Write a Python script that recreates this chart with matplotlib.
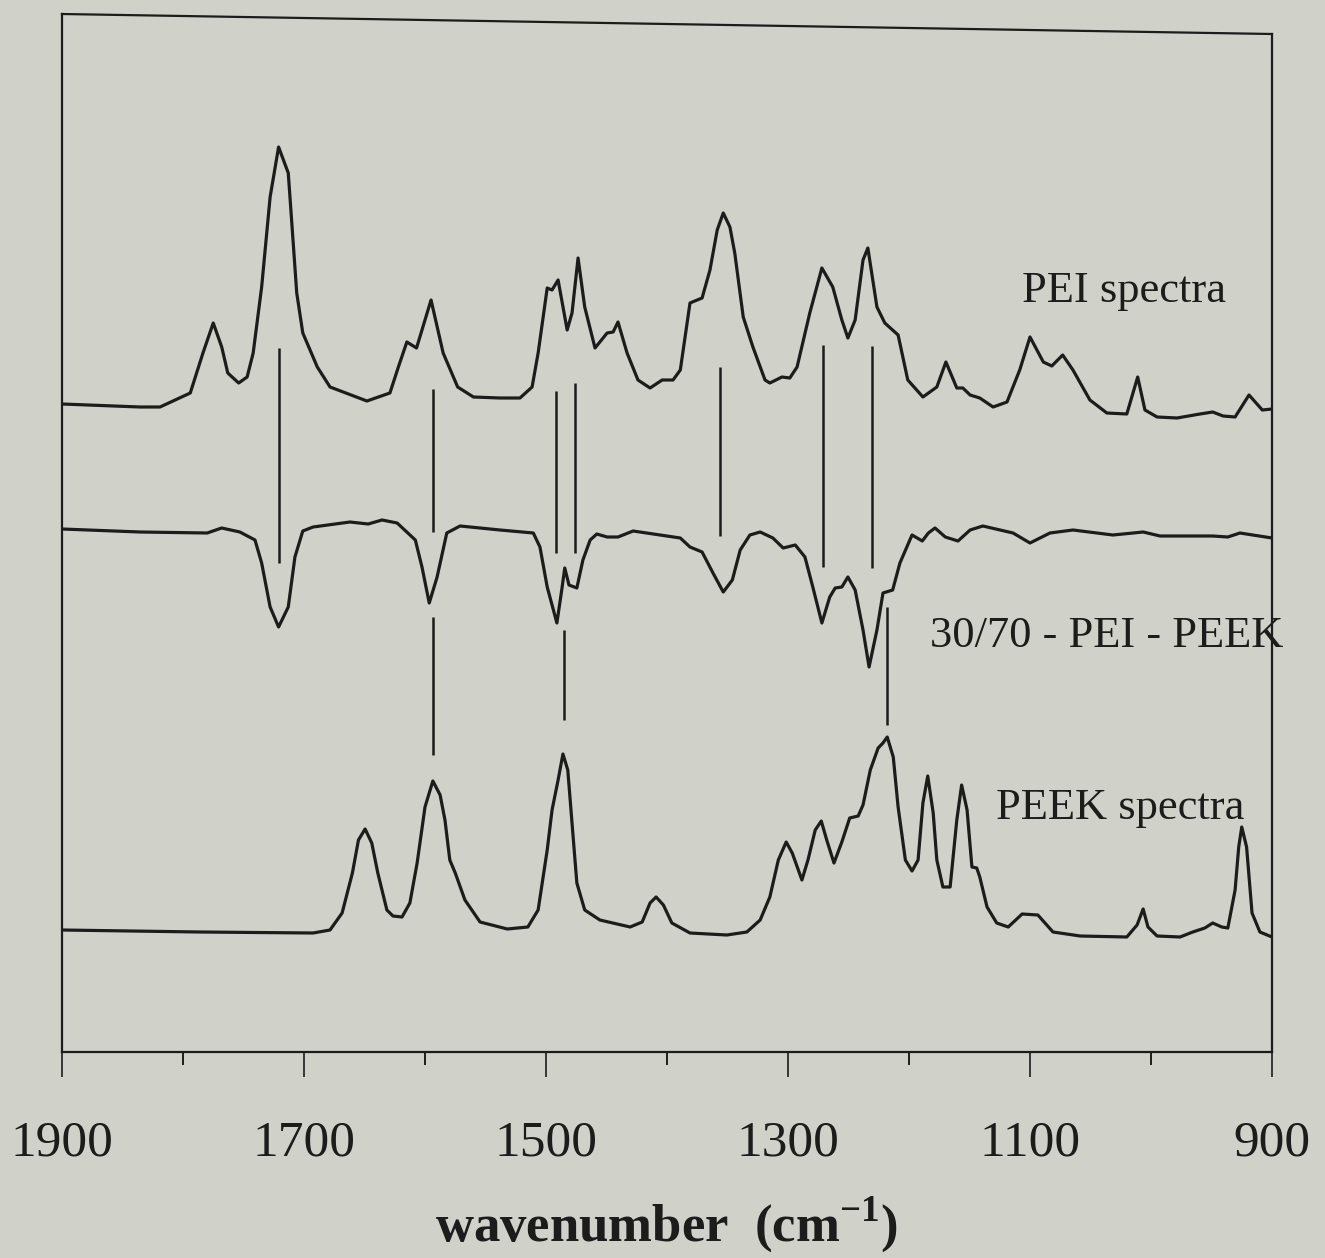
import numpy as np
import matplotlib
matplotlib.use("Agg")
import matplotlib.pyplot as plt

# wavenumber (cm-1) and offset absorbance (a.u.)
pei_wn = [1900, 1835.5, 1819, 1794, 1783.5, 1775, 1768, 1763, 1754, 1747, 1742, 1735, 1728,
          1721, 1713, 1706, 1701, 1689, 1678.5, 1648, 1629, 1622, 1615, 1607, 1595, 1585,
          1573, 1560, 1538, 1521.5, 1511.5, 1506.5, 1499, 1495, 1490, 1482.5, 1478.5,
          1473.5, 1468, 1459.5, 1449.5, 1444.5, 1440.5, 1433, 1424, 1414, 1404, 1395,
          1389, 1381, 1371, 1364.5, 1358.5, 1353.5, 1348, 1344, 1337, 1329, 1319, 1315,
          1305, 1298.5, 1292.5, 1282, 1272, 1263, 1255.5, 1250.5, 1244.5, 1238, 1234,
          1226.5, 1220, 1209, 1201, 1188.5, 1177, 1169.5, 1160.5, 1155.5, 1149.5, 1141.5,
          1130.5, 1119, 1108.5, 1100, 1089, 1082, 1073, 1064.5, 1050.5, 1036.5, 1020,
          1011, 1005, 995, 978.5, 959.5, 949, 940.5, 930.5, 919, 908, 900]
pei_abs = [6.48, 6.45, 6.45, 6.59, 6.99, 7.29, 7.05, 6.79, 6.69, 6.75, 6.99, 7.65, 8.55,
           9.05, 8.79, 7.59, 7.19, 6.85, 6.65, 6.51, 6.59, 6.85, 7.10, 7.04, 7.52, 6.99,
           6.65, 6.55, 6.54, 6.54, 6.65, 6.99, 7.64, 7.62, 7.72, 7.22, 7.39,
           7.94, 7.45, 7.04, 7.19, 7.20, 7.30, 6.99, 6.72, 6.64, 6.72, 6.72,
           6.82, 7.49, 7.54, 7.82, 8.22, 8.39, 8.25, 7.99, 7.35, 7.05, 6.72, 6.69,
           6.75, 6.74, 6.85, 7.39, 7.84, 7.65, 7.32, 7.14, 7.32, 7.92, 8.04,
           7.45, 7.29, 7.17, 6.72, 6.55, 6.65, 6.90, 6.64, 6.64, 6.57, 6.54,
           6.45, 6.50, 6.82, 7.15, 6.90, 6.86, 6.97, 6.82, 6.52, 6.39, 6.38,
           6.75, 6.42, 6.35, 6.34, 6.38, 6.40, 6.36, 6.35, 6.57, 6.42, 6.43]

blend_wn = [1900, 1835.5, 1780, 1768, 1753, 1740.5, 1735, 1728, 1721, 1713, 1707.5, 1701,
            1692.5, 1662, 1647, 1635.5, 1623, 1608, 1602.5, 1596.5, 1590, 1582, 1571,
            1538, 1510.5, 1505, 1499, 1491, 1487, 1484.5, 1481, 1474.5, 1469.5, 1463.5,
            1458, 1449.5, 1440.5, 1428, 1389, 1381, 1371, 1362, 1353.5, 1346, 1339.5,
            1331.5, 1323, 1312.5, 1304, 1294, 1286, 1279.5, 1272, 1265.5, 1261, 1255.5,
            1250.5, 1244.5, 1238, 1233, 1226.5, 1221.5, 1213.5, 1207.5, 1197.5, 1189,
            1184, 1178.5, 1170, 1159.5, 1149.5, 1139, 1114, 1100, 1083.5, 1064.5,
            1031.5, 1006.5, 992.5, 949, 936.5, 926.5, 900]
blend_abs = [5.23, 5.20, 5.19, 5.24, 5.20, 5.12, 4.89, 4.45, 4.25, 4.45, 4.95, 5.21,
             5.25, 5.30, 5.28, 5.32, 5.29, 5.12, 4.85, 4.49, 4.75, 5.19, 5.26,
             5.22, 5.19, 5.05, 4.65, 4.29, 4.62, 4.84, 4.67, 4.64, 4.92, 5.12,
             5.18, 5.15, 5.15, 5.21, 5.14, 5.05, 5.00, 4.79, 4.60, 4.72, 5.02,
             5.17, 5.20, 5.14, 5.04, 5.07, 4.95, 4.65, 4.29, 4.55, 4.64, 4.65,
             4.75, 4.62, 4.22, 3.85, 4.22, 4.59, 4.62, 4.89, 5.17, 5.11,
             5.19, 5.24, 5.15, 5.11, 5.22, 5.26, 5.19, 5.09, 5.19, 5.22,
             5.17, 5.20, 5.16, 5.16, 5.15, 5.19, 5.14]

peek_wn = [1900, 1786, 1692.5, 1678.5, 1668.5, 1660, 1655, 1649.5, 1644, 1639, 1631.5,
           1626.5, 1619, 1612.5, 1606.5, 1600, 1593.5, 1587.5, 1583.5, 1579.5, 1575,
           1567, 1554.5, 1532, 1515, 1506.5, 1499, 1495, 1490, 1486, 1482, 1478.5,
           1474.5, 1468, 1455.5, 1430.5, 1420.5, 1414, 1409, 1403, 1396, 1381, 1350.5,
           1334, 1323, 1315, 1308, 1301.5, 1296.5, 1288.5, 1283.5, 1277.5, 1272.5, 1268,
           1262, 1255.5, 1249, 1242, 1238, 1232, 1225.5, 1221.5, 1218, 1213, 1209, 1203,
           1197.5, 1192.5, 1188.5, 1184.5, 1180, 1177, 1172, 1166, 1160.5, 1156.5, 1152,
           1148, 1144, 1141.5, 1135.5, 1127.5, 1118, 1106.5, 1093.5, 1081, 1058.5, 1020,
           1011.5, 1006.5, 1002.5, 995, 976, 965.5, 955.5, 949, 941.5, 936.5, 930.5,
           927.5, 925, 921, 916.5, 910, 900]
peek_abs = [1.22, 1.20, 1.19, 1.22, 1.39, 1.79, 2.12, 2.23, 2.09, 1.79, 1.42,
            1.36, 1.35, 1.49, 1.89, 2.45, 2.71, 2.57, 2.32, 1.92, 1.79,
            1.52, 1.30, 1.23, 1.25, 1.42, 2.02, 2.42, 2.72, 2.98, 2.82, 2.29,
            1.69, 1.42, 1.32, 1.25, 1.30, 1.49, 1.55, 1.47, 1.29, 1.19, 1.17,
            1.20, 1.32, 1.55, 1.92, 2.10, 1.99, 1.72, 1.92, 2.22, 2.31, 2.12,
            1.89, 2.10, 2.34, 2.36, 2.47, 2.82, 3.04, 3.09, 3.15, 2.95, 2.45, 1.92,
            1.81, 1.92, 2.49, 2.76, 2.39, 1.92, 1.65, 1.65, 2.32, 2.67, 2.42,
            1.85, 1.84, 1.75, 1.45, 1.29, 1.25, 1.38, 1.37, 1.20, 1.16, 1.15,
            1.27, 1.43, 1.25, 1.16, 1.15, 1.20, 1.24, 1.29, 1.25, 1.24, 1.62,
            2.05, 2.25, 2.05, 1.39, 1.20, 1.15]

# band markers: wavenumber, top, bottom
mark_wn = [1721, 1593.5, 1491.5, 1476, 1356, 1271, 1230.5, 1593.5, 1485, 1218]
mark_top = [7.04, 6.63, 6.61, 6.69, 6.85, 7.07, 7.06, 4.35, 4.22, 4.45]
mark_bot = [4.89, 5.20, 4.99, 4.99, 5.16, 4.85, 4.84, 2.97, 3.32, 3.27]

labels = ["PEI spectra", "30/70 - PEI - PEEK", "PEEK spectra"]
label_wn = [1107, 1183, 1128]
label_abs = [7.50, 4.05, 2.33]

bg = '#d0d2ca'
ink = '#1c1c1c'
plt.rcParams['font.family'] = 'Liberation Serif'
plt.rcParams['mathtext.fontset'] = 'custom'
plt.rcParams['mathtext.rm'] = 'Liberation Serif'
plt.rcParams['mathtext.bf'] = 'Liberation Serif:bold'

fig = plt.figure(figsize=(13.25, 12.58), dpi=100, facecolor=bg)
ax = fig.add_axes([62 / 1325, 206 / 1258, 1210 / 1325, 1038 / 1258])
ax.set_facecolor(bg)

for wn, ab in [(pei_wn, pei_abs), (blend_wn, blend_abs), (peek_wn, peek_abs)]:
    ax.plot(wn, ab, color=ink, lw=2.3, solid_joinstyle='round', solid_capstyle='round')

ax.vlines(mark_wn, mark_bot, mark_top, color=ink, lw=1.8)

for t, x, y in zip(labels, label_wn, label_abs):
    ax.text(x, y, t, fontsize=32, ha='left', va='baseline', color=ink)

ax.set_xlim(1900, 900)
ax.set_ylim(0, 10.38)
ax.set_xticks([1900, 1700, 1500, 1300, 1100, 900])
ax.set_xticks([1800, 1600, 1400, 1200, 1000], minor=True)
ax.tick_params(axis='x', which='major', direction='out', length=18, width=1.2,
               labelsize=37, pad=31, colors=ink)
ax.tick_params(axis='x', which='minor', direction='out', length=9, width=1.2)
ax.set_yticks([])
ax.set_xlabel(r'wavenumber  (cm$^{\mathbf{-1}}$)', fontsize=38, fontweight='bold',
              labelpad=20, color=ink)

for s in ax.spines.values():
    s.set_linewidth(1.6)
    s.set_color(ink)
ax.spines['top'].set_visible(False)
ax.spines['right'].set_bounds(0, 10.18)
# scanned frame: top edge is slightly tilted
ax.plot([0, 1], [1, 10.18 / 10.38], transform=ax.transAxes, color=ink, lw=1.6,
        clip_on=False)

fig.savefig('out.png', dpi=100, facecolor=bg)
